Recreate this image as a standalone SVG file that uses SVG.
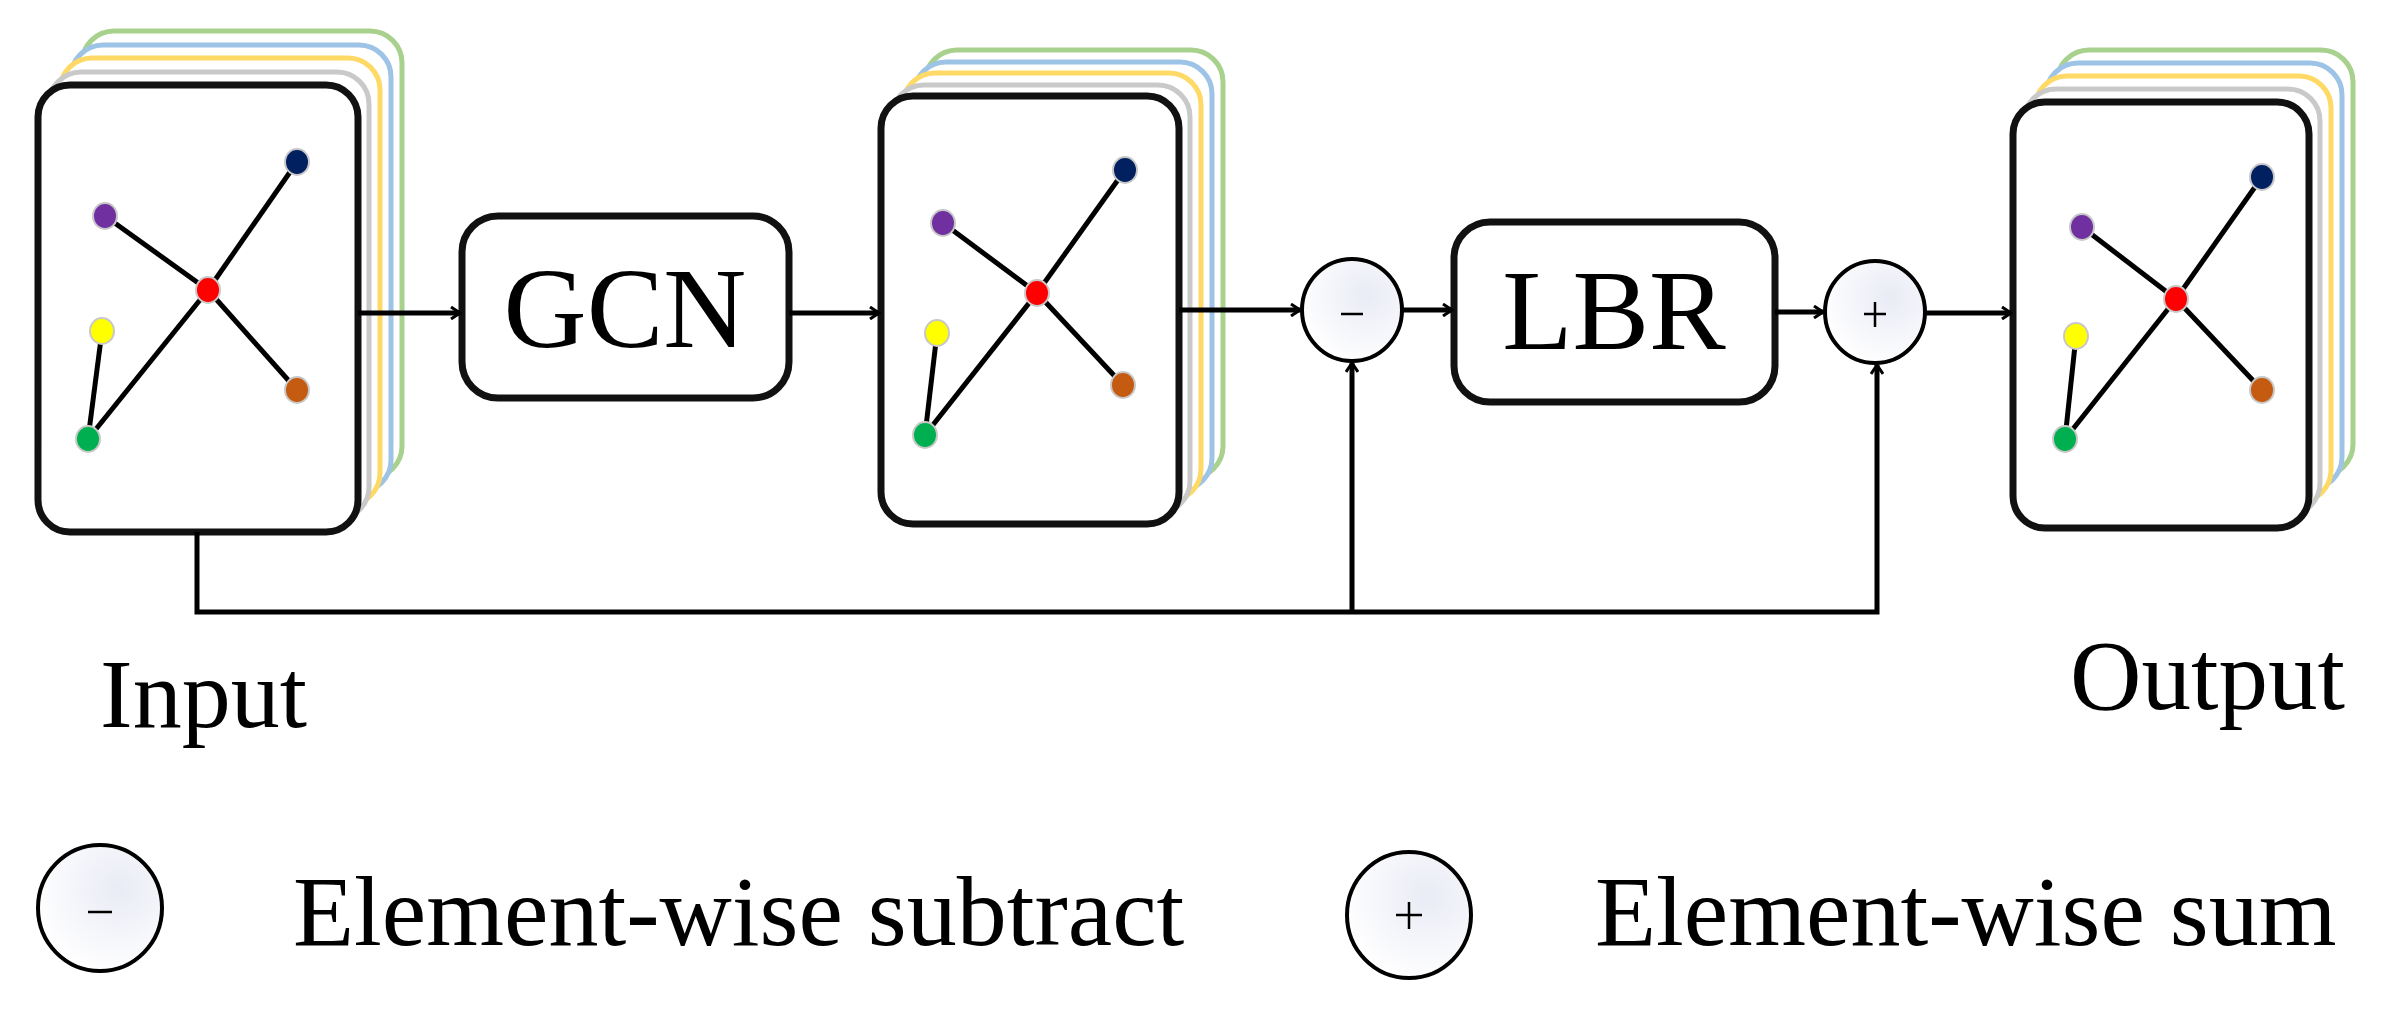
<svg xmlns="http://www.w3.org/2000/svg" xmlns:xlink="http://www.w3.org/1999/xlink" width="2404" height="1014" viewBox="0 0 2404 1014">
<style>
.box{fill:#fff;stroke:#111;stroke-width:7}
.lay{fill:#fff;stroke-width:5}
.g{stroke:#c9c9c9}.y{stroke:#ffd966}.b{stroke:#9dc3e6}.gr{stroke:#a9d18e}
.e{stroke:#000;stroke-width:5}
.n{stroke:#c8c8c8;stroke-width:2}
.t{font-family:"Liberation Serif","Times New Roman",serif;fill:#000}
.op{fill:url(#cg);stroke:#000;stroke-width:4}
.c{fill:none;stroke:#000;stroke-width:5}
</style>
<defs>
<radialGradient id="cg" cx="0.65" cy="0.35" r="0.7"><stop offset="0" stop-color="#e9ebf5"/><stop offset="1" stop-color="#ffffff"/></radialGradient>
<marker id="ah" markerWidth="12" markerHeight="14" refX="10" refY="7" orient="auto" markerUnits="userSpaceOnUse" viewBox="0 0 12 14"><polyline points="1,1 10,7 1,13" fill="none" stroke="#000" stroke-width="3"/></marker>
</defs>

<g id="input">
<rect class="lay gr" x="82" y="31" width="320" height="447" rx="32"/>
<rect class="lay b" x="71" y="45" width="320" height="447" rx="32"/>
<rect class="lay y" x="60" y="58" width="320" height="447" rx="32"/>
<rect class="lay g" x="49" y="72" width="320" height="447" rx="32"/>
<rect class="box" x="38" y="85" width="320" height="447" rx="32"/>
<line class="e" x1="105" y1="216" x2="208" y2="290"/><line class="e" x1="297" y1="162" x2="208" y2="290"/>
<line class="e" x1="208" y1="290" x2="297" y2="390"/><line class="e" x1="208" y1="290" x2="88" y2="439"/>
<line class="e" x1="102" y1="331" x2="88" y2="439"/>
<ellipse class="n" cx="105" cy="216" rx="12" ry="13" fill="#7030a0"/>
<ellipse class="n" cx="297" cy="162" rx="12" ry="13" fill="#002060"/>
<ellipse class="n" cx="208" cy="290" rx="12" ry="13" fill="#ff0000"/>
<ellipse class="n" cx="102" cy="331" rx="12" ry="13" fill="#ffff00"/>
<ellipse class="n" cx="297" cy="390" rx="12" ry="13" fill="#c55a11"/>
<ellipse class="n" cx="88" cy="439" rx="12" ry="13" fill="#00b050"/>
<text class="t" x="100" y="727" font-size="98">Input</text>
</g>

<g id="gcn">
<rect class="box" x="462" y="216" width="327" height="182" rx="36"/>
<text class="t" x="625" y="347" font-size="115" text-anchor="middle">GCN</text>
</g>

<g id="mid">
<rect class="lay gr" x="925" y="50" width="298" height="428" rx="32"/>
<rect class="lay b" x="914" y="62" width="298" height="428" rx="32"/>
<rect class="lay y" x="903" y="73" width="298" height="428" rx="32"/>
<rect class="lay g" x="892" y="85" width="298" height="428" rx="32"/>
<rect class="box" x="881" y="96" width="298" height="428" rx="32"/>
<line class="e" x1="943" y1="223" x2="1037" y2="293"/><line class="e" x1="1125" y1="170" x2="1037" y2="293"/>
<line class="e" x1="1037" y1="293" x2="1123" y2="385"/><line class="e" x1="1037" y1="293" x2="925" y2="435"/>
<line class="e" x1="937" y1="333" x2="925" y2="435"/>
<ellipse class="n" cx="943" cy="223" rx="12" ry="13" fill="#7030a0"/>
<ellipse class="n" cx="1125" cy="170" rx="12" ry="13" fill="#002060"/>
<ellipse class="n" cx="1037" cy="293" rx="12" ry="13" fill="#ff0000"/>
<ellipse class="n" cx="937" cy="333" rx="12" ry="13" fill="#ffff00"/>
<ellipse class="n" cx="1123" cy="385" rx="12" ry="13" fill="#c55a11"/>
<ellipse class="n" cx="925" cy="435" rx="12" ry="13" fill="#00b050"/>
</g>

<g id="sub">
<ellipse class="op" cx="1352" cy="310" rx="50" ry="51"/>
<line x1="1341" y1="314" x2="1363" y2="314" stroke="#000" stroke-width="2.5"/>
</g>

<g id="lbr">
<rect class="box" x="1454" y="222" width="321" height="180" rx="36"/>
<text class="t" x="1614" y="349" font-size="115" text-anchor="middle">LBR</text>
</g>

<g id="sum">
<ellipse class="op" cx="1875" cy="312" rx="50" ry="51"/>
<line x1="1864" y1="314" x2="1886" y2="314" stroke="#000" stroke-width="2.5"/>
<line x1="1875" y1="302" x2="1875" y2="327" stroke="#000" stroke-width="2.5"/>
</g>

<g id="output">
<rect class="lay gr" x="2057" y="50" width="296" height="426" rx="32"/>
<rect class="lay b" x="2046" y="63" width="296" height="426" rx="32"/>
<rect class="lay y" x="2035" y="76" width="296" height="426" rx="32"/>
<rect class="lay g" x="2024" y="89" width="296" height="426" rx="32"/>
<rect class="box" x="2013" y="102" width="296" height="426" rx="32"/>
<line class="e" x1="2082" y1="227" x2="2176" y2="299"/><line class="e" x1="2262" y1="177" x2="2176" y2="299"/>
<line class="e" x1="2176" y1="299" x2="2262" y2="390"/><line class="e" x1="2176" y1="299" x2="2065" y2="439"/>
<line class="e" x1="2076" y1="336" x2="2065" y2="439"/>
<ellipse class="n" cx="2082" cy="227" rx="12" ry="13" fill="#7030a0"/>
<ellipse class="n" cx="2262" cy="177" rx="12" ry="13" fill="#002060"/>
<ellipse class="n" cx="2176" cy="299" rx="12" ry="13" fill="#ff0000"/>
<ellipse class="n" cx="2076" cy="336" rx="12" ry="13" fill="#ffff00"/>
<ellipse class="n" cx="2262" cy="390" rx="12" ry="13" fill="#c55a11"/>
<ellipse class="n" cx="2065" cy="439" rx="12" ry="13" fill="#00b050"/>
<text class="t" x="2070" y="709" font-size="99">Output</text>
</g>

<g id="connectors">
<line class="c" x1="358" y1="313" x2="460" y2="313" marker-end="url(#ah)"/>
<line class="c" x1="789" y1="313" x2="879" y2="313" marker-end="url(#ah)"/>
<line class="c" x1="1179" y1="310" x2="1300" y2="310" marker-end="url(#ah)"/>
<line class="c" x1="1402" y1="310" x2="1452" y2="310" marker-end="url(#ah)"/>
<line class="c" x1="1775" y1="312" x2="1823" y2="312" marker-end="url(#ah)"/>
<line class="c" x1="1925" y1="313" x2="2011" y2="313" marker-end="url(#ah)"/>
<polyline class="c" points="197,532 197,612 1877,612 1877,365" marker-end="url(#ah)"/>
<line class="c" x1="1352" y1="612" x2="1352" y2="363" marker-end="url(#ah)"/>
</g>

<g id="legend">
<ellipse class="op" cx="100" cy="908" rx="62" ry="63"/>
<line x1="88" y1="912" x2="112" y2="912" stroke="#000" stroke-width="2.5"/>
<text class="t" x="293" y="945" font-size="100">Element-wise subtract</text>
<ellipse class="op" cx="1409" cy="915" rx="62" ry="63"/>
<line x1="1396" y1="915" x2="1422" y2="915" stroke="#000" stroke-width="2.5"/>
<line x1="1409" y1="902" x2="1409" y2="929" stroke="#000" stroke-width="2.5"/>
<text class="t" x="1595" y="945" font-size="100">Element-wise sum</text>
</g>
</svg>
